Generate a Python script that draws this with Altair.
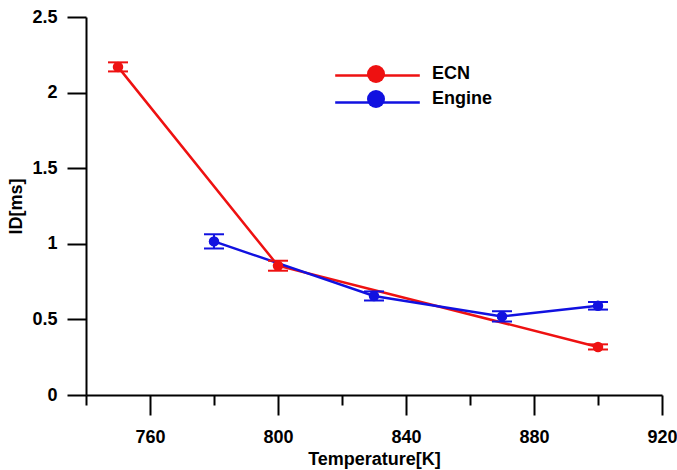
import altair as alt
import pandas as pd

# ---- data ----
series_names = ["ECN", "Engine"]
series_colors = ["#ee1111", "#1111e0"]

ecn_temp = [750, 800, 900]
ecn_id = [2.17, 0.855, 0.318]
ecn_err = [0.030, 0.033, 0.017]

eng_temp = [780, 830, 870, 900]
eng_id = [1.016, 0.655, 0.520, 0.590]
eng_err = [0.047, 0.030, 0.034, 0.025]

x_tick_values = [740, 760, 780, 800, 820, 840, 860, 880, 900, 920]
y_tick_values = [0, 0.25, 0.5, 0.75, 1.0, 1.25, 1.5, 1.75, 2.0, 2.25, 2.5]

# keys for the line part of the legend (kept distinct so its legend is not merged
# with the marker legend; its labels are hidden)
line_keys = [s + " line" for s in series_names]

rows = []
for t, v, e in zip(ecn_temp, ecn_id, ecn_err):
    rows.append({"series": "ECN", "line_key": line_keys[0], "T": t, "ID": v,
                 "lo": v - e, "hi": v + e})
for t, v, e in zip(eng_temp, eng_id, eng_err):
    rows.append({"series": "Engine", "line_key": line_keys[1], "T": t, "ID": v,
                 "lo": v - e, "hi": v + e})
df = pd.DataFrame(rows)

FONT = "Liberation Sans"

x_scale = alt.Scale(domain=[740, 920], nice=False, zero=False)
y_scale = alt.Scale(domain=[0, 2.5], nice=False)
col_scale = alt.Scale(domain=series_names, range=series_colors)
line_scale = alt.Scale(domain=line_keys, range=series_colors)

x_axis = alt.Axis(
    values=x_tick_values,
    tickSize={"condition": {"test": "datum.value % 40 === 0", "value": 20}, "value": 10},
    labelExpr="datum.value % 40 === 0 ? datum.label : ''",
    title="Temperature[K]",
    grid=False,
    labelPadding=13,
    titlePadding=4,
)
y_axis = alt.Axis(
    values=y_tick_values,
    format="~g",
    tickSize={"condition": {"test": "datum.value % 0.5 === 0", "value": 19}, "value": 9},
    labelExpr="datum.value % 0.5 === 0 ? datum.label : ''",
    title="ID[ms]",
    grid=False,
    labelPadding=10,
    titlePadding=6,
)

LEG_X = 281
LEG_Y = 48


def make_legend(symbol, stroke_w, show_labels):
    kwargs = {}
    if not show_labels:
        kwargs["labelExpr"] = "''"
    return alt.Legend(
        title=None,
        orient="none",
        legendX=LEG_X,
        legendY=LEG_Y,
        symbolType=symbol,
        symbolSize=324,
        symbolStrokeWidth=stroke_w,
        symbolOpacity=1,
        labelOffset=47,
        labelFont=FONT,
        labelFontSize=18,
        labelFontWeight="bold",
        labelColor="black",
        rowPadding=7,
        padding=0,
        **kwargs,
    )


base = alt.Chart(df)

x_enc = alt.X("T:Q", scale=x_scale, axis=x_axis)
y_enc = alt.Y("ID:Q", scale=y_scale, axis=y_axis)
line_stroke = alt.Stroke("line_key:N", scale=line_scale,
                         legend=make_legend("M-4.7,0L4.7,0", 2.7, False))

lines = base.mark_line(strokeWidth=2.5).encode(
    x=x_enc,
    y=y_enc,
    stroke=line_stroke,
    order="T:Q",
)

err_rule = base.mark_rule(strokeWidth=2, opacity=1).encode(
    x="T:Q",
    y="lo:Q",
    y2="hi:Q",
    stroke=line_stroke,
)
cap_lo = base.mark_rule(strokeWidth=2, opacity=1, xOffset=-10, x2Offset=10).encode(
    x="T:Q",
    x2="T:Q",
    y="lo:Q",
    stroke=line_stroke,
)
cap_hi = base.mark_rule(strokeWidth=2, opacity=1, xOffset=-10, x2Offset=10).encode(
    x="T:Q",
    x2="T:Q",
    y="hi:Q",
    stroke=line_stroke,
)

points = base.mark_point(filled=True, size=110, opacity=1).encode(
    x="T:Q",
    y="ID:Q",
    color=alt.Color("series:N", scale=col_scale,
                    legend=make_legend("circle", 0, True)),
)

chart = (
    alt.layer(lines, err_rule, cap_lo, cap_hi, points)
    .properties(
        width=576,
        height=378,
        autosize=alt.AutoSizeParams(type="none"),
        padding={"left": 86, "top": 17, "right": 15, "bottom": 75},
        background="white",
    )
    .configure_view(stroke=None)
    .configure_axis(
        domainColor="black",
        domainWidth=2,
        tickColor="black",
        tickWidth=2,
        labelFont=FONT,
        labelFontSize=18,
        labelFontWeight="bold",
        labelColor="black",
        titleFont=FONT,
        titleFontSize=18,
        titleFontWeight="bold",
        titleColor="black",
        labelFlush=False,
        labelOverlap=False,
    )
)

chart.save("out.html", embed_options={"renderer": "svg", "actions": False})
